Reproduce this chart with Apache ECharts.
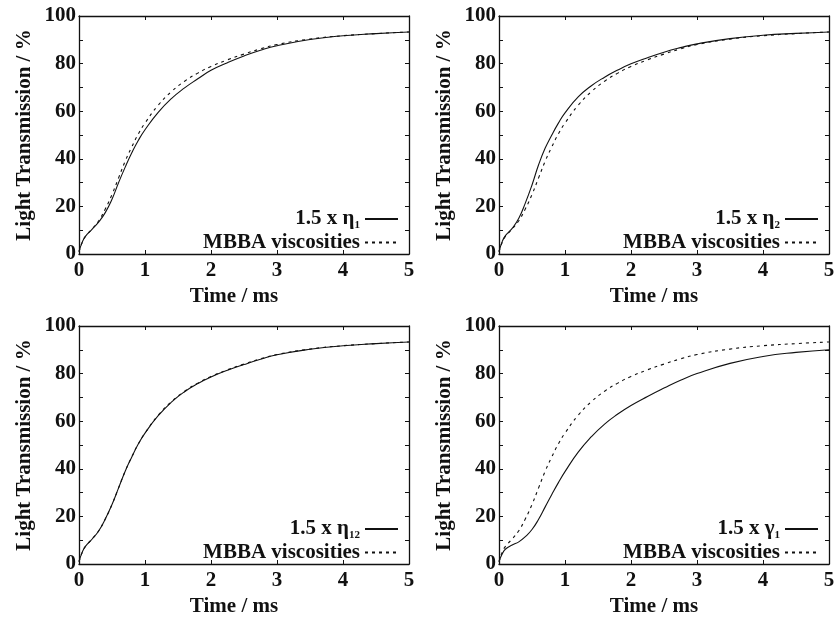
<!DOCTYPE html>
<html>
<head>
<meta charset="utf-8">
<script src="https://cdn.jsdelivr.net/npm/echarts@6/dist/echarts.min.js"></script>
<style>
  html, body { margin: 0; padding: 0; background: #fff; }
  #chart { width: 838px; height: 622px; }
</style>
</head>
<body>
<div id="chart"></div>
<script>
// Simulated light transmission after switching, for scaled viscosity sets
const TIME = [0, 0.05, 0.1, 0.2, 0.3, 0.4, 0.5, 0.6, 0.7, 0.8, 0.9, 1.0, 1.2, 1.4, 1.6, 1.8, 2.0, 2.25, 2.5, 2.75, 3.0, 3.5, 4.0, 4.5, 5.0];

const MBBA   = [1, 5, 7.5, 10.5, 14, 19, 25, 32, 39, 45, 50.5, 55, 62.5, 68.2, 72.6, 76, 78.8, 81.6, 84, 86.2, 88, 90.3, 91.7, 92.6, 93.3];
const ETA1   = [1, 5, 7.5, 10.5, 13.5, 17.5, 23, 30, 36.5, 42.5, 47.8, 52.2, 59.5, 65.3, 69.8, 73.6, 77.2, 80.4, 83.2, 85.6, 87.5, 90.1, 91.7, 92.6, 93.3];
const ETA2   = [1, 5.3, 7.8, 10.8, 15, 21.5, 29, 37.5, 44.5, 50, 55, 59.3, 66, 70.7, 74.3, 77.3, 79.9, 82.5, 84.8, 86.7, 88.3, 90.5, 91.9, 92.7, 93.3];
const ETA12  = [1, 5, 7.5, 10.5, 14, 19, 25, 32, 39, 45, 50.5, 55, 62.3, 68, 72.4, 75.8, 78.6, 81.4, 83.8, 86, 87.9, 90.2, 91.7, 92.6, 93.3];
const GAMMA1 = [1, 4.3, 6.3, 8, 9.3, 11.5, 14.5, 18.8, 24, 29.2, 34.2, 38.8, 47, 53.5, 58.8, 63, 66.6, 70.4, 73.9, 77.2, 80, 84.3, 87.2, 88.9, 90];

const X_TICKS = [0, 1, 2, 3, 4, 5];
const Y_TICKS = [0, 20, 40, 60, 80, 100];

// one panel per scaled coefficient: [series name, symbol, subscript, values]
const PANELS = [
  ['1.5 x η1', 'η', '1', ETA1],
  ['1.5 x η2', 'η', '2', ETA2],
  ['1.5 x η12', 'η', '12', ETA12],
  ['1.5 x γ1', 'γ', '1', GAMMA1]
];
const REF_NAME = 'MBBA viscosities';

const FONT = '"Liberation Serif", "DejaVu Serif", serif';
const INK = '#111';

const GRID_POS = [
  { left: 79, top: 16 },
  { left: 499, top: 16 },
  { left: 79, top: 326 },
  { left: 499, top: 326 }
];

function pairs(vals) {
  return TIME.map((t, i) => [t, vals[i]]);
}

const grids = [], xAxes = [], yAxes = [], series = [], legends = [];
const labelMap = {};

PANELS.forEach((p, g) => {
  const pos = GRID_POS[g];
  grids.push({ left: pos.left, top: pos.top, width: 330, height: 238, containLabel: false });

  const tickStyle = { show: true, inside: true, length: 4, lineStyle: { color: INK, width: 1 } };
  const lineStyle = { show: true, onZero: false, lineStyle: { color: INK, width: 1.3 } };

  // bottom axis with labels
  xAxes.push({
    type: 'value', gridIndex: g, min: X_TICKS[0], max: X_TICKS[X_TICKS.length - 1], interval: 1,
    position: 'bottom', axisLine: lineStyle, axisTick: tickStyle, splitLine: { show: false },
    axisLabel: { color: INK, fontFamily: FONT, fontSize: 21, fontWeight: 'bold', margin: 6 },
    name: 'Time / ms', nameLocation: 'middle', nameGap: 32,
    nameTextStyle: { color: INK, fontFamily: FONT, fontSize: 21, fontWeight: 'bold', padding: [0, 20, 0, 0] }
  });
  // top mirror axis: ticks only
  xAxes.push({
    type: 'value', gridIndex: g, min: X_TICKS[0], max: X_TICKS[X_TICKS.length - 1], interval: 1,
    position: 'top', axisLine: lineStyle, axisTick: tickStyle, splitLine: { show: false },
    axisLabel: { show: false }
  });
  // left axis with labels
  yAxes.push({
    type: 'value', gridIndex: g, min: Y_TICKS[0], max: Y_TICKS[Y_TICKS.length - 1], interval: 20,
    position: 'left', axisLine: lineStyle, axisTick: tickStyle, splitLine: { show: false },
    minorTick: { show: true, splitNumber: 2, length: 4, lineStyle: { color: INK, width: 1 } },
    axisLabel: { color: INK, fontFamily: FONT, fontSize: 21, fontWeight: 'bold', margin: 3 },
    name: 'Light Transmission / %', nameLocation: 'middle', nameGap: 44,
    nameTextStyle: { color: INK, fontFamily: FONT, fontSize: 21, fontWeight: 'bold' }
  });
  // right mirror axis: ticks only
  yAxes.push({
    type: 'value', gridIndex: g, min: Y_TICKS[0], max: Y_TICKS[Y_TICKS.length - 1], interval: 20,
    position: 'right', axisLine: lineStyle, axisTick: tickStyle, splitLine: { show: false },
    minorTick: { show: true, splitNumber: 2, length: 4, lineStyle: { color: INK, width: 1 } },
    axisLabel: { show: false }
  });

  series.push({
    name: p[0], type: 'line', xAxisIndex: 2 * g, yAxisIndex: 2 * g,
    data: pairs(p[3]), showSymbol: false, symbol: 'none',
    smooth: 0.5,
    lineStyle: { color: INK, width: 1.1, type: 'solid' }, itemStyle: { color: INK },
    z: 3
  });
  series.push({
    name: REF_NAME, type: 'line', xAxisIndex: 2 * g, yAxisIndex: 2 * g,
    data: pairs(MBBA), showSymbol: false, symbol: 'none',
    smooth: 0.5,
    lineStyle: { color: INK, width: 1.1, type: [3, 4] }, itemStyle: { color: INK },
    z: 2
  });

  labelMap[p[0]] = '1.5 x ' + p[1] + '{sub|' + p[2] + '}';

  legends.push({
    data: [p[0], REF_NAME],
    orient: 'vertical', align: 'right',
    right: g % 2 === 0 ? 434 : 14,
    top: pos.top + 187,
    itemWidth: 33, itemHeight: 12, itemGap: 1,
    selectedMode: false,
    itemStyle: { opacity: 0, borderWidth: 0 },
    textStyle: {
      color: INK, fontFamily: FONT, fontSize: 21, fontWeight: 'bold', lineHeight: 22,
      rich: { sub: { fontFamily: FONT, fontSize: 11, fontWeight: 'bold', color: INK, padding: [12, 0, 0, 0] } }
    },
    formatter: name => labelMap[name] || name
  });
});

const chart = echarts.init(document.getElementById('chart'), null, { renderer: 'canvas' });
chart.setOption({
  backgroundColor: '#fff',
  animation: false,
  grid: grids,
  xAxis: xAxes,
  yAxis: yAxes,
  legend: legends,
  series: series
});
</script>
</body>
</html>
